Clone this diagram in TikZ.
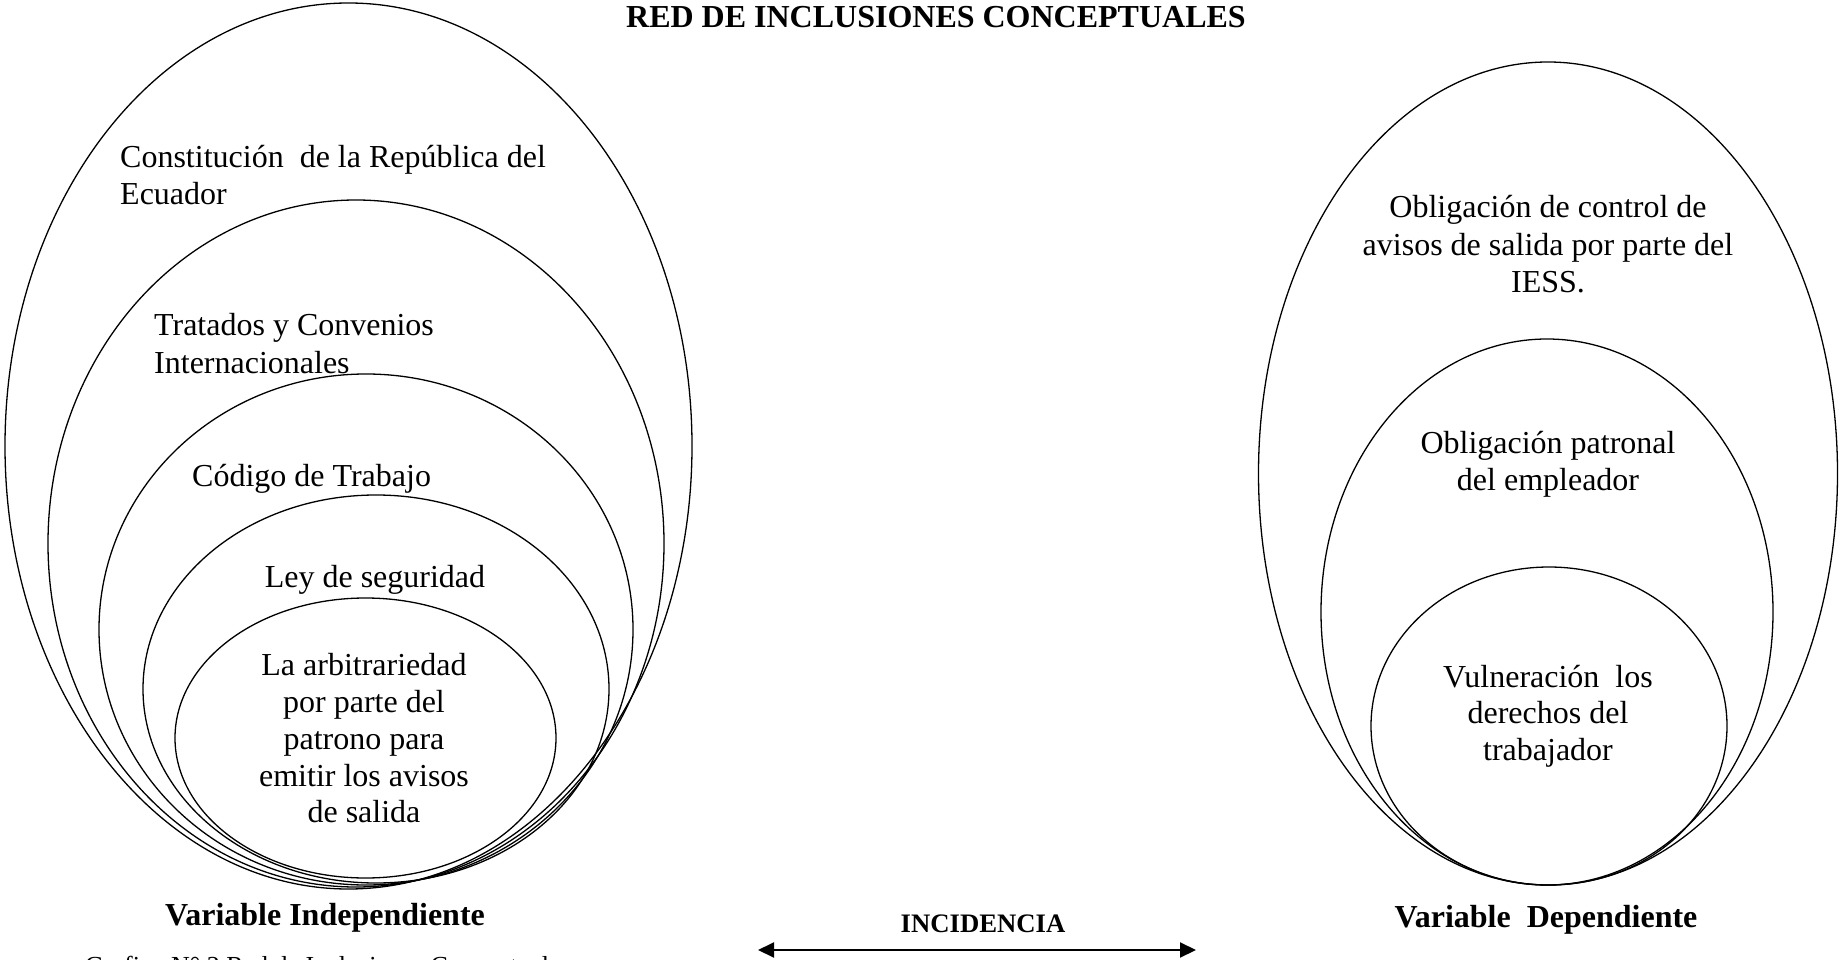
\documentclass[tikz,border=0pt]{standalone}
\usepackage{fontspec}
\setmainfont{Liberation Serif}
\usetikzlibrary{shapes.geometric,arrows.meta}
\begin{document}
\begin{tikzpicture}[x=1pt,y=-1pt,
  ring/.style={draw, ellipse, line width=1.3pt, inner sep=0pt, outer sep=0pt},
  body/.style={inner sep=0pt, font=\fontsize{32}{36.8}\selectfont},
  bodyb/.style={inner sep=0pt, font=\fontsize{32}{36.8}\selectfont\bfseries},
  smallb/.style={inner sep=0pt, font=\fontsize{26.7}{30}\selectfont\bfseries},
  capt/.style={inner sep=0pt, font=\fontsize{26}{30}\selectfont},
  tip/.style={{Triangle[length=16pt,width=15pt]}-{Triangle[length=16pt,width=15pt]}, line width=2pt}]
\useasboundingbox (0,0) rectangle (1842,960);
% title
\node[bodyb, anchor=base] (title) at (936,28) {RED DE INCLUSIONES CONCEPTUALES};
% left nested ellipses
\node[ring, minimum width=687pt, minimum height=886pt] (e1) at (348.5,446) {};
\node[ring, minimum width=616pt, minimum height=687pt] (e2) at (356,543.5) {};
\node[ring, minimum width=534pt, minimum height=511pt] (e3) at (366,629.5) {};
\node[ring, minimum width=466pt, minimum height=388pt] (e4) at (376,689) {};
\node[ring, minimum width=381pt, minimum height=280pt] (e5) at (365.5,738) {};
% right nested ellipses
\node[ring, minimum width=579pt, minimum height=823pt] (r1) at (1548,473.5) {};
\node[ring, minimum width=452pt, minimum height=546pt] (r2) at (1547,612) {};
\node[ring, minimum width=356pt, minimum height=318pt] (r3) at (1549,726) {};
% left texts
\node[body, anchor=base west] (t1a) at (120,168) {Constitución~ de la República del};
\node[body, anchor=base west] (t1b) at (120,205) {Ecuador};
\node[body, anchor=base west] (t2a) at (154,335) {Tratados y Convenios};
\node[body, anchor=base west] (t2b) at (154,373) {Internacionales};
\node[body, anchor=base west] (t3) at (192,486) {Código de Trabajo};
\node[body, anchor=base] (t4) at (375,587) {Ley de seguridad};
\node[body, anchor=base] (t5a) at (364,675) {La arbitrariedad};
\node[body, anchor=base] (t5b) at (364,712) {por parte del};
\node[body, anchor=base] (t5c) at (364,749) {patrono para};
\node[body, anchor=base] (t5d) at (364,786) {emitir los avisos};
\node[body, anchor=base] (t5e) at (364,822) {de salida};
% right texts
\node[body, anchor=base] (s1a) at (1548,218) {Obligación de control de};
\node[body, anchor=base] (s1b) at (1548,255) {avisos de salida por parte del};
\node[body, anchor=base] (s1c) at (1548,292) {IESS.};
\node[body, anchor=base] (s2a) at (1548,453) {Obligación patronal};
\node[body, anchor=base] (s2b) at (1548,490) {del empleador};
\node[body, anchor=base] (s3a) at (1548,687) {Vulneración~ los};
\node[body, anchor=base] (s3b) at (1548,723) {derechos del};
\node[body, anchor=base] (s3c) at (1548,760) {trabajador};
% labels
\node[bodyb, anchor=base] (vi) at (325,925) {Variable Independiente};
\node[bodyb, anchor=base] (vd) at (1546,927) {Variable~ Dependiente};
\node[smallb, anchor=base] (inc) at (983,932) {INCIDENCIA};
\coordinate (al) at (758,950);
\coordinate (ar) at (1196,950);
\draw[tip] (al) -- (ar);
\node[capt, anchor=base west] (cap) at (85,974) {Grafico N° 2 Red de Inclusiones Conceptuales};
\end{tikzpicture}
\end{document}
